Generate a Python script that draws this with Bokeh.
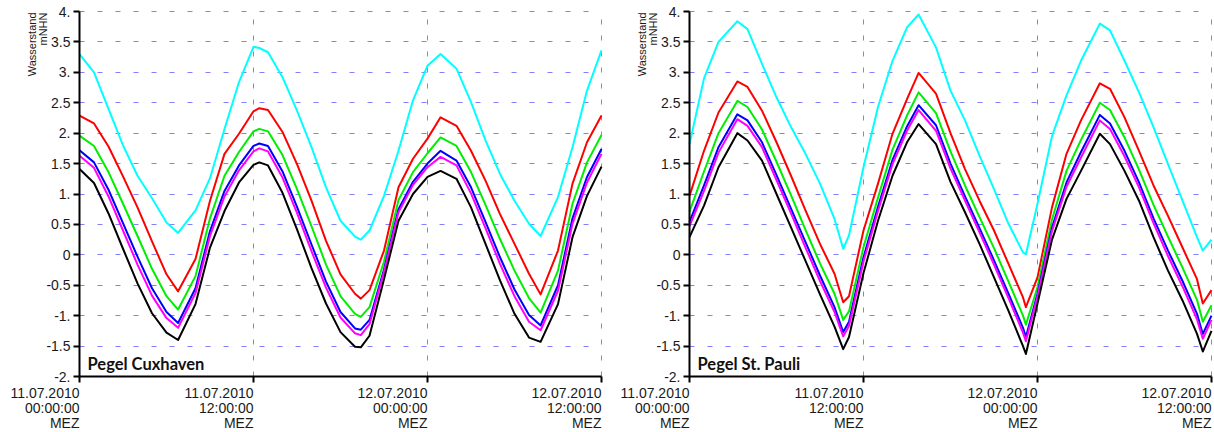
from bokeh.plotting import figure
from bokeh.layouts import row
from bokeh.models import FixedTicker, Label, Range1d, Grid
from bokeh.embed import file_html
from bokeh.resources import INLINE

# ---------------- data ----------------
x_ticks = [0, 12, 24, 36]
x_tick_labels = ["11.07.2010\n00:00:00\nMEZ", "11.07.2010\n12:00:00\nMEZ",
                 "12.07.2010\n00:00:00\nMEZ", "12.07.2010\n12:00:00\nMEZ"]
y_ticks = [4, 3.5, 3, 2.5, 2, 1.5, 1, 0.5, 0, -0.5, -1, -1.5, -2]
y_tick_labels = ["4.", "3.5", "3.", "2.5", "2.", "1.5", "1.", "0.5", "0", "-0.5", "-1.", "-1.5", "-2."]
y_axis_title = ["Wasserstand", "mNHN"]
series_colors = ["#00ffff", "#ff0000", "#00ee00", "#0000ff", "#ff00ff", "#000000"]

# Pegel Cuxhaven (hours since 11.07.2010 00:00)
cux_hours = [0, 1, 2, 3, 4, 5, 6, 6.8, 8, 9, 10, 11, 12, 12.4, 13, 14, 15, 16, 17, 18, 19, 19.4,
             20, 21, 22, 23, 24, 24.9, 26, 27, 28, 29, 30, 31, 31.8, 33, 34, 35, 36]
cux_cyan = [3.30, 3.00, 2.40, 1.80, 1.30, 0.93, 0.53, 0.36, 0.73, 1.26, 2.07, 2.84, 3.42, 3.40, 3.33, 2.92,
            2.37, 1.77, 1.11, 0.56, 0.30, 0.25, 0.40, 0.97, 1.71, 2.54, 3.11, 3.30, 3.06, 2.51, 1.88, 1.33,
            0.89, 0.51, 0.31, 0.95, 1.77, 2.70, 3.36]
cux_red = [2.29, 2.16, 1.78, 1.29, 0.78, 0.22, -0.32, -0.60, -0.07, 0.89, 1.66, 1.99, 2.36, 2.41, 2.38, 2.02,
           1.49, 0.89, 0.23, -0.32, -0.64, -0.72, -0.58, 0.07, 1.11, 1.58, 1.91, 2.26, 2.12, 1.71, 1.22, 0.67,
           0.18, -0.31, -0.65, 0.07, 1.17, 1.85, 2.29]
cux_green = [1.96, 1.79, 1.36, 0.84, 0.31, -0.23, -0.68, -0.90, -0.35, 0.60, 1.30, 1.69, 2.03, 2.07, 2.03, 1.64,
             1.08, 0.47, -0.16, -0.68, -0.97, -1.02, -0.86, -0.11, 0.90, 1.36, 1.67, 1.93, 1.79, 1.36, 0.82, 0.26,
             -0.26, -0.71, -0.95, -0.26, 0.84, 1.52, 1.97]
cux_blue = [1.72, 1.52, 1.07, 0.52, -0.03, -0.55, -0.94, -1.12, -0.55, 0.39, 1.05, 1.47, 1.79, 1.83, 1.79, 1.37,
            0.79, 0.17, -0.44, -0.94, -1.21, -1.23, -1.07, -0.24, 0.75, 1.20, 1.50, 1.71, 1.55, 1.11, 0.54, -0.04,
            -0.57, -0.99, -1.16, -0.50, 0.60, 1.28, 1.74]
cux_magenta = [1.63, 1.43, 0.96, 0.40, -0.16, -0.67, -1.04, -1.20, -0.63, 0.31, 0.96, 1.39, 1.70, 1.75, 1.70, 1.27,
               0.69, 0.06, -0.54, -1.03, -1.29, -1.32, -1.14, -0.28, 0.70, 1.15, 1.44, 1.61, 1.47, 1.01, 0.44, -0.15,
               -0.68, -1.10, -1.24, -0.59, 0.51, 1.19, 1.66]
cux_black = [1.41, 1.18, 0.68, 0.10, -0.47, -0.96, -1.28, -1.40, -0.81, 0.12, 0.72, 1.19, 1.48, 1.52, 1.47, 1.02,
             0.42, -0.22, -0.80, -1.27, -1.51, -1.52, -1.33, -0.40, 0.56, 1.00, 1.28, 1.38, 1.25, 0.78, 0.18, -0.42,
             -0.97, -1.36, -1.43, -0.81, 0.29, 0.97, 1.45]

# Pegel St. Pauli
pauli_hours = [0, 1, 2, 3.3, 4, 5, 6, 7, 8, 9, 10, 10.6, 11, 12, 13, 14, 15, 15.8, 17, 18, 19, 20, 21, 22,
               23, 23.2, 24, 25, 26, 27, 28.3, 29, 30, 31, 32, 33, 34, 35, 35.4, 36]
pauli_cyan = [1.82, 2.90, 3.50, 3.84, 3.71, 3.14, 2.59, 2.10, 1.66, 1.17, 0.59, 0.10, 0.32, 1.44, 2.43, 3.19,
              3.74, 3.95, 3.41, 2.70, 2.21, 1.63, 1.08, 0.51, 0.04, 0.01, 0.84, 1.95, 2.62, 3.19, 3.80, 3.69,
              3.19, 2.67, 2.10, 1.49, 0.89, 0.29, 0.07, 0.25]
pauli_red = [0.97, 1.71, 2.34, 2.85, 2.76, 2.37, 1.85, 1.30, 0.73, 0.18, -0.31, -0.78, -0.68, 0.40, 1.17, 1.99,
             2.56, 2.99, 2.65, 2.00, 1.41, 0.89, 0.40, -0.15, -0.70, -0.86, -0.37, 0.78, 1.66, 2.21, 2.82, 2.73,
             2.26, 1.71, 1.14, 0.64, 0.12, -0.40, -0.80, -0.58]
pauli_green = [0.71, 1.37, 2.00, 2.53, 2.43, 2.06, 1.53, 0.98, 0.41, -0.14, -0.64, -1.07, -0.93, 0.13, 0.94, 1.73,
               2.29, 2.67, 2.33, 1.70, 1.14, 0.62, 0.11, -0.44, -1.00, -1.15, -0.53, 0.58, 1.38, 1.89, 2.50, 2.38,
               1.93, 1.40, 0.82, 0.30, -0.21, -0.74, -1.10, -0.83]
pauli_blue = [0.54, 1.14, 1.77, 2.31, 2.21, 1.85, 1.31, 0.76, 0.21, -0.34, -0.86, -1.27, -1.10, -0.04, 0.79, 1.56,
              2.11, 2.46, 2.13, 1.50, 0.96, 0.44, -0.09, -0.64, -1.20, -1.35, -0.64, 0.45, 1.19, 1.69, 2.30, 2.16,
              1.71, 1.19, 0.60, 0.07, -0.43, -0.97, -1.30, -1.00]
pauli_magenta = [0.47, 1.05, 1.68, 2.23, 2.12, 1.77, 1.23, 0.68, 0.12, -0.43, -0.94, -1.34, -1.17, -0.11, 0.72, 1.49,
                 2.04, 2.38, 2.04, 1.42, 0.89, 0.37, -0.16, -0.71, -1.28, -1.42, -0.68, 0.39, 1.12, 1.60, 2.21, 2.07,
                 1.62, 1.11, 0.52, -0.02, -0.52, -1.06, -1.38, -1.07]
pauli_black = [0.29, 0.81, 1.44, 2.00, 1.88, 1.55, 1.00, 0.45, -0.10, -0.65, -1.18, -1.55, -1.35, -0.30, 0.56, 1.30,
               1.85, 2.15, 1.82, 1.20, 0.70, 0.18, -0.37, -0.92, -1.50, -1.63, -0.80, 0.25, 0.92, 1.38, 1.99, 1.82,
               1.38, 0.89, 0.29, -0.26, -0.75, -1.30, -1.59, -1.25]

# ---------------- layout constants (pixels) ----------------
FIG_H = 432
PLOT_TOP, PLOT_BOTTOM = 11, 376       # y pixel of value 4 and value -2
PX_PER_HOUR = 14.5
GRID = "#7f7fff"
TICK_FONT = "Liberation Sans"
HAS_CROSS = "cross_bounds" in Grid.properties()


def make_panel(title, hours, series, fig_w, left_px):
    x_lo, x_hi = x_ticks[0], x_ticks[-1]
    y_lo, y_hi = y_ticks[-1], y_ticks[0]
    px_per_unit = (PLOT_BOTTOM - PLOT_TOP) / (y_hi - y_lo)
    xr = Range1d(x_lo - left_px / PX_PER_HOUR, x_lo + (fig_w - left_px) / PX_PER_HOUR)
    yr = Range1d(y_lo - (FIG_H - PLOT_BOTTOM) / px_per_unit, y_hi + PLOT_TOP / px_per_unit)
    p = figure(width=fig_w, height=FIG_H, x_range=xr, y_range=yr,
               output_backend="svg", toolbar_location=None, min_border=0)
    p.outline_line_color = None
    p.background_fill_color = "white"
    p.border_fill_color = "white"

    # grid (restricted to the data area)
    p.ygrid.ticker = FixedTicker(ticks=y_ticks)
    p.xgrid.ticker = FixedTicker(ticks=x_ticks[1:])
    for g, dash in ((p.ygrid[0], "5 13"), (p.xgrid[0], "5 11")):
        g.grid_line_color = GRID
        g.grid_line_dash = dash
        g.grid_line_width = 1
    if HAS_CROSS:
        p.ygrid.cross_bounds = (x_lo, x_hi)
        p.xgrid.cross_bounds = (y_lo, y_hi)
    else:
        p.ygrid.visible = False
        p.xgrid.visible = False
        p.segment(x0=[x_lo] * len(y_ticks), x1=[x_hi] * len(y_ticks), y0=y_ticks, y1=y_ticks,
                  line_color=GRID, line_dash="5 13", line_width=1)
        p.segment(x0=x_ticks[1:], x1=x_ticks[1:], y0=[y_lo] * 3, y1=[y_hi] * 3,
                  line_color=GRID, line_dash="5 11", line_width=1)

    # axes drawn at fixed locations
    for ax in (p.xaxis[0], p.yaxis[0]):
        ax.axis_line_color = "black"
        ax.axis_line_width = 2
        ax.major_tick_line_color = "black"
        ax.major_tick_line_width = 2
        ax.major_tick_out = 6
        ax.major_tick_in = 0
        ax.minor_tick_line_color = None
    p.xaxis.fixed_location = y_lo
    p.xaxis.bounds = (x_lo, x_hi)
    p.xaxis.ticker = FixedTicker(ticks=x_ticks)
    p.xaxis.major_label_overrides = {float(t): "" for t in x_ticks}
    p.yaxis.fixed_location = x_lo
    p.yaxis.bounds = (y_lo, y_hi)
    p.yaxis.ticker = FixedTicker(ticks=y_ticks)
    p.yaxis.major_label_overrides = {float(t): s for t, s in zip(y_ticks, y_tick_labels)}
    p.yaxis.major_label_text_font = TICK_FONT
    p.yaxis.major_label_text_font_size = "14px"
    p.yaxis.major_label_text_color = "#1a1a1a"
    p.yaxis.major_label_standoff = 3

    # lines
    for ys, col in zip(series, series_colors):
        p.line(hours, ys, line_color=col, line_width=2, line_join="round")

    # x tick labels (right-aligned at the tick, three lines)
    for t, lab in zip(x_ticks, x_tick_labels):
        p.add_layout(Label(x=t, y=y_lo, y_offset=-8, text=lab, text_align="right",
                           text_baseline="top", text_font=TICK_FONT, text_font_size="14px",
                           text_line_height=0.94, text_color="#1a1a1a"))

    # y axis title at the top, rotated
    for txt, off in zip(y_axis_title, [-48, -37]):
        p.add_layout(Label(x=x_lo, y=y_hi, x_offset=off, y_offset=-1, text=txt, angle=90,
                           angle_units="deg", text_align="right", text_baseline="middle",
                           text_font=TICK_FONT, text_font_size="11px", text_color="#1a1a1a"))

    # panel title
    p.add_layout(Label(x=x_lo, y=y_lo, x_offset=8, y_offset=13, text=title, text_align="left",
                       text_baseline="alphabetic", text_font="Lato", text_font_style="bold",
                       text_font_size="16.5px", text_color="#111111"))
    return p


cux_series = [cux_cyan, cux_red, cux_green, cux_blue, cux_magenta, cux_black]
pauli_series = [pauli_cyan, pauli_red, pauli_green, pauli_blue, pauli_magenta, pauli_black]
for s in cux_series:
    assert len(s) == len(cux_hours)
for s in pauli_series:
    assert len(s) == len(pauli_hours)

p1 = make_panel("Pegel Cuxhaven", cux_hours, cux_series, 608, 79)
p2 = make_panel("Pegel St. Pauli", pauli_hours, pauli_series, 606, 81)

layout = row(p1, p2)
open("out.html", "w").write(file_html(layout, INLINE))
